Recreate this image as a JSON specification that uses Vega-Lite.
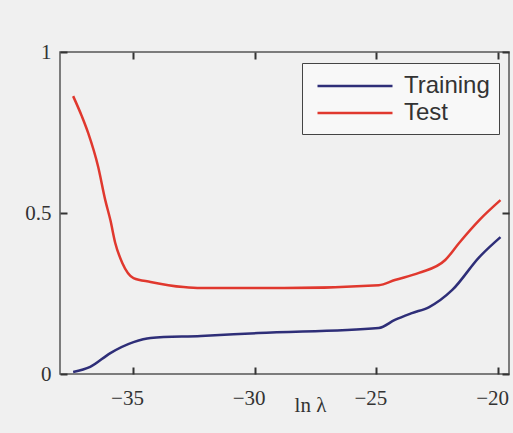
{
  "$schema": "https://vega.github.io/schema/vega-lite/v6.json",
  "autosize": "none",
  "width": 449,
  "height": 322,
  "padding": {"left": 60, "top": 52, "right": 4, "bottom": 59},
  "background": "#f0f0f0",
  "config": {
    "view": {"stroke": "#555555", "strokeWidth": 1.5},
    "axis": {"labelFont": "Liberation Serif", "titleFont": "Liberation Serif", "labelColor": "#333333", "titleColor": "#333333", "labelFontSize": 21, "titleFontSize": 21, "titleFontWeight": "normal", "grid": false, "domain": false}
  },
  "data": {"values": [
    {"lnlambda": -37.46, "erms": 0.863, "series": "Test"},
    {"lnlambda": -37.1, "erms": 0.8, "series": "Test"},
    {"lnlambda": -36.84, "erms": 0.748, "series": "Test"},
    {"lnlambda": -36.43, "erms": 0.643, "series": "Test"},
    {"lnlambda": -36.14, "erms": 0.54, "series": "Test"},
    {"lnlambda": -35.93, "erms": 0.478, "series": "Test"},
    {"lnlambda": -35.73, "erms": 0.407, "series": "Test"},
    {"lnlambda": -35.44, "erms": 0.345, "series": "Test"},
    {"lnlambda": -34.98, "erms": 0.298, "series": "Test"},
    {"lnlambda": -34.28, "erms": 0.286, "series": "Test"},
    {"lnlambda": -32.92, "erms": 0.27, "series": "Test"},
    {"lnlambda": -32.21, "erms": 0.267, "series": "Test"},
    {"lnlambda": -29.86, "erms": 0.267, "series": "Test"},
    {"lnlambda": -28.79, "erms": 0.267, "series": "Test"},
    {"lnlambda": -24.9, "erms": 0.276, "series": "Test"},
    {"lnlambda": -24.24, "erms": 0.292, "series": "Test"},
    {"lnlambda": -23.25, "erms": 0.314, "series": "Test"},
    {"lnlambda": -22.17, "erms": 0.354, "series": "Test"},
    {"lnlambda": -21.6, "erms": 0.407, "series": "Test"},
    {"lnlambda": -20.77, "erms": 0.478, "series": "Test"},
    {"lnlambda": -19.9, "erms": 0.54, "series": "Test"},
    {"lnlambda": -37.46, "erms": 0.006, "series": "Training"},
    {"lnlambda": -36.76, "erms": 0.022, "series": "Training"},
    {"lnlambda": -35.93, "erms": 0.065, "series": "Training"},
    {"lnlambda": -34.98, "erms": 0.099, "series": "Training"},
    {"lnlambda": -34.28, "erms": 0.112, "series": "Training"},
    {"lnlambda": -32.21, "erms": 0.118, "series": "Training"},
    {"lnlambda": -29.86, "erms": 0.127, "series": "Training"},
    {"lnlambda": -24.9, "erms": 0.143, "series": "Training"},
    {"lnlambda": -24.24, "erms": 0.168, "series": "Training"},
    {"lnlambda": -23.54, "erms": 0.189, "series": "Training"},
    {"lnlambda": -22.83, "erms": 0.208, "series": "Training"},
    {"lnlambda": -21.88, "erms": 0.261, "series": "Training"},
    {"lnlambda": -20.77, "erms": 0.363, "series": "Training"},
    {"lnlambda": -19.9, "erms": 0.425, "series": "Training"}
  ]},
  "resolve": {"axis": {"x": "independent", "y": "independent"}},
  "layer": [
    {
      "mark": {"type": "line", "interpolate": "monotone", "strokeWidth": 2.5},
      "encoding": {
        "x": {"field": "lnlambda", "type": "quantitative", "scale": {"domain": [-38, -19.55], "nice": false, "zero": false},
              "axis": {"values": [-35, -30, -25, -20], "ticks": true, "tickSize": -7, "tickColor": "#333333", "tickWidth": 2,
                       "title": "ln λ", "titleX": 250, "titleY": 20, "titleBaseline": "top", "labelPadding": 20, "labelOffset": -6}},
        "y": {"field": "erms", "type": "quantitative", "scale": {"domain": [0, 1], "nice": false},
              "axis": {"values": [0, 0.5, 1], "format": "~g", "title": null, "ticks": true, "tickSize": -7, "tickColor": "#333333", "tickWidth": 2, "labelPadding": 16}},
        "color": {"field": "series", "type": "nominal",
                  "scale": {"domain": ["Training", "Test"], "range": ["#2e2e78", "#e0382e"]},
                  "legend": {"title": null, "orient": "none", "legendX": 242, "legendY": 11,
                             "symbolType": "M-0.6,0H5.4", "symbolSize": 625, "symbolStrokeWidth": 2.5,
                             "labelOffset": 65, "rowPadding": 1,
                             "labelFont": "Liberation Sans", "labelFontSize": 24, "labelColor": "#333333",
                             "fillColor": "#f8f8f8", "strokeColor": "#444444", "padding": 9}}
      }
    },
    {
      "mark": {"type": "line", "opacity": 0},
      "encoding": {
        "x": {"field": "lnlambda", "type": "quantitative",
              "axis": {"orient": "top", "values": [-35, -30, -25, -20], "labels": false, "title": null, "ticks": true, "tickSize": -7, "tickColor": "#333333", "tickWidth": 2}},
        "y": {"field": "erms", "type": "quantitative",
              "axis": {"orient": "right", "values": [0, 0.5, 1], "labels": false, "title": null, "ticks": true, "tickSize": -7, "tickColor": "#333333", "tickWidth": 2}}
      }
    }
  ]
}
